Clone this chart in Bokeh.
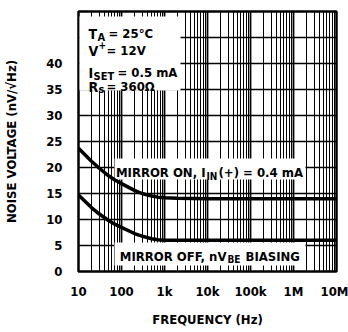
from bokeh.plotting import figure
from bokeh.models import FixedTicker, Label
from bokeh.embed import file_html
from bokeh.resources import INLINE

# ---- data ----
freq = [10, 20, 30, 50, 70, 100, 200, 300, 500, 700, 1000, 2000, 1e4, 1e5, 1e6, 1e7]
mirror_on = [23.7, 21.2, 19.9, 18.4, 17.6, 16.9, 15.6, 15.0, 14.5, 14.3, 14.2, 14.1, 14.0, 14.0, 14.0, 14.0]
mirror_off = [14.7, 12.3, 11.1, 9.8, 9.1, 8.5, 7.3, 6.8, 6.3, 6.1, 6.0, 6.0, 6.0, 6.0, 6.0, 6.0]
x_ticks = [10, 100, 1000, 10000, 100000, 1000000, 10000000]
x_tick_labels = ["10", "100", "1k", "10k", "100k", "1M", "10M"]
y_ticks = [0, 5, 10, 15, 20, 25, 30, 35, 40, 45, 50]
y_tick_labels = ["0", "5", "10", "15", "20", "25", "30", "35", "40", "", ""]

FONT = "DejaVu Sans Condensed"

# frame geometry in page pixels (for placing annotations)
FL, FR, FT, FB = 78, 336, 11, 271
def dx(X):
    return 10 ** (1 + (X - FL) / ((FR - FL) / 6.0))
def dy(Y):
    return (FB - Y) / ((FB - FT) / 50.0)

p = figure(width=348, height=332, x_axis_type="log", x_range=(10, 1e7), y_range=(0, 50),
           output_backend="svg", toolbar_location=None,
           min_border_left=FL, min_border_right=348 - FR, min_border_top=FT, min_border_bottom=332 - FB)
p.background_fill_color = "white"
p.border_fill_color = "white"
p.outline_line_color = "black"
p.outline_line_width = 2.5

minors = []
for d in x_ticks[:-1]:
    for k in range(2, 10):
        minors.append(d * k)
p.xaxis.ticker = FixedTicker(ticks=x_ticks, minor_ticks=minors)
p.yaxis.ticker = FixedTicker(ticks=y_ticks)
p.xaxis.major_label_overrides = {t: l for t, l in zip(x_ticks, x_tick_labels)}
p.yaxis.major_label_overrides = {t: l for t, l in zip(y_ticks, y_tick_labels)}

for ax in (p.xaxis, p.yaxis):
    ax.axis_line_color = None
    ax.major_tick_line_color = None
    ax.minor_tick_line_color = None
    ax.major_tick_out = 0
    ax.major_tick_in = 0
    ax.minor_tick_out = 0
    ax.minor_tick_in = 0
    ax.major_label_text_font = FONT
    ax.major_label_text_font_style = "bold"
    ax.major_label_text_font_size = "13px"
    ax.major_label_text_color = "black"
    ax.axis_label_text_font = FONT
    ax.axis_label_text_font_style = "bold"
    ax.axis_label_text_font_size = "13px"
    ax.axis_label_text_color = "black"

p.xaxis.axis_label = "FREQUENCY (Hz)"
p.yaxis.axis_label = "NOISE VOLTAGE (nV/√Hz)"
p.xaxis.major_label_standoff = 12
p.yaxis.major_label_standoff = 16
p.xaxis.axis_label_standoff = 10
p.yaxis.axis_label_standoff = 24

p.xgrid.grid_line_color = "black"
p.xgrid.grid_line_width = 1.8
p.xgrid.minor_grid_line_color = "black"
p.xgrid.minor_grid_line_width = 1
p.ygrid.grid_line_color = "black"
p.ygrid.grid_line_width = 1.3

# white boxes behind the text blocks
p.quad(left=[dx(FL + 1), dx(114), dx(114)], right=[dx(180), dx(305), dx(305)],
       top=[dy(16), dy(158), dy(242)], bottom=[dy(90), dy(179), dy(265)],
       fill_color="white", line_color=None)

p.line(freq, mirror_on, line_width=3.5, color="black", line_join="round")
p.line(freq, mirror_off, line_width=3.5, color="black", line_join="round")

def txt(s, X, Y, size, align="left"):
    p.add_layout(Label(x=dx(X), y=dy(Y), text=s, text_font=FONT, text_font_style="bold",
                       text_font_size=f"{size}px", text_color="black",
                       text_align=align, text_baseline="alphabetic"))

# condition block
txt("T", 88, 33, 14); txt("A", 97, 37, 11); txt("= 25°C", 108, 33, 13)
txt("V", 88, 50, 14); txt("+", 98, 44, 10); txt("= 12V", 106, 50, 13)
txt("I", 88, 72, 14); txt("SET", 93, 76, 11); txt("= 0.5 mA", 117, 72, 13)
txt("R", 88, 86, 14); txt("s", 98, 89, 11); txt("= 360Ω", 106, 86, 13)

# curve labels
txt("MIRROR ON, I", 205, 172, 13, "right"); txt("IN", 206, 176, 10); txt("(+) = 0.4 mA", 218, 172, 13)
txt("MIRROR OFF, nV", 226, 256, 13, "right"); txt("BE", 227, 259, 10); txt("BIASING", 245, 256, 13)

open("out.html", "w").write(file_html(p, INLINE))
